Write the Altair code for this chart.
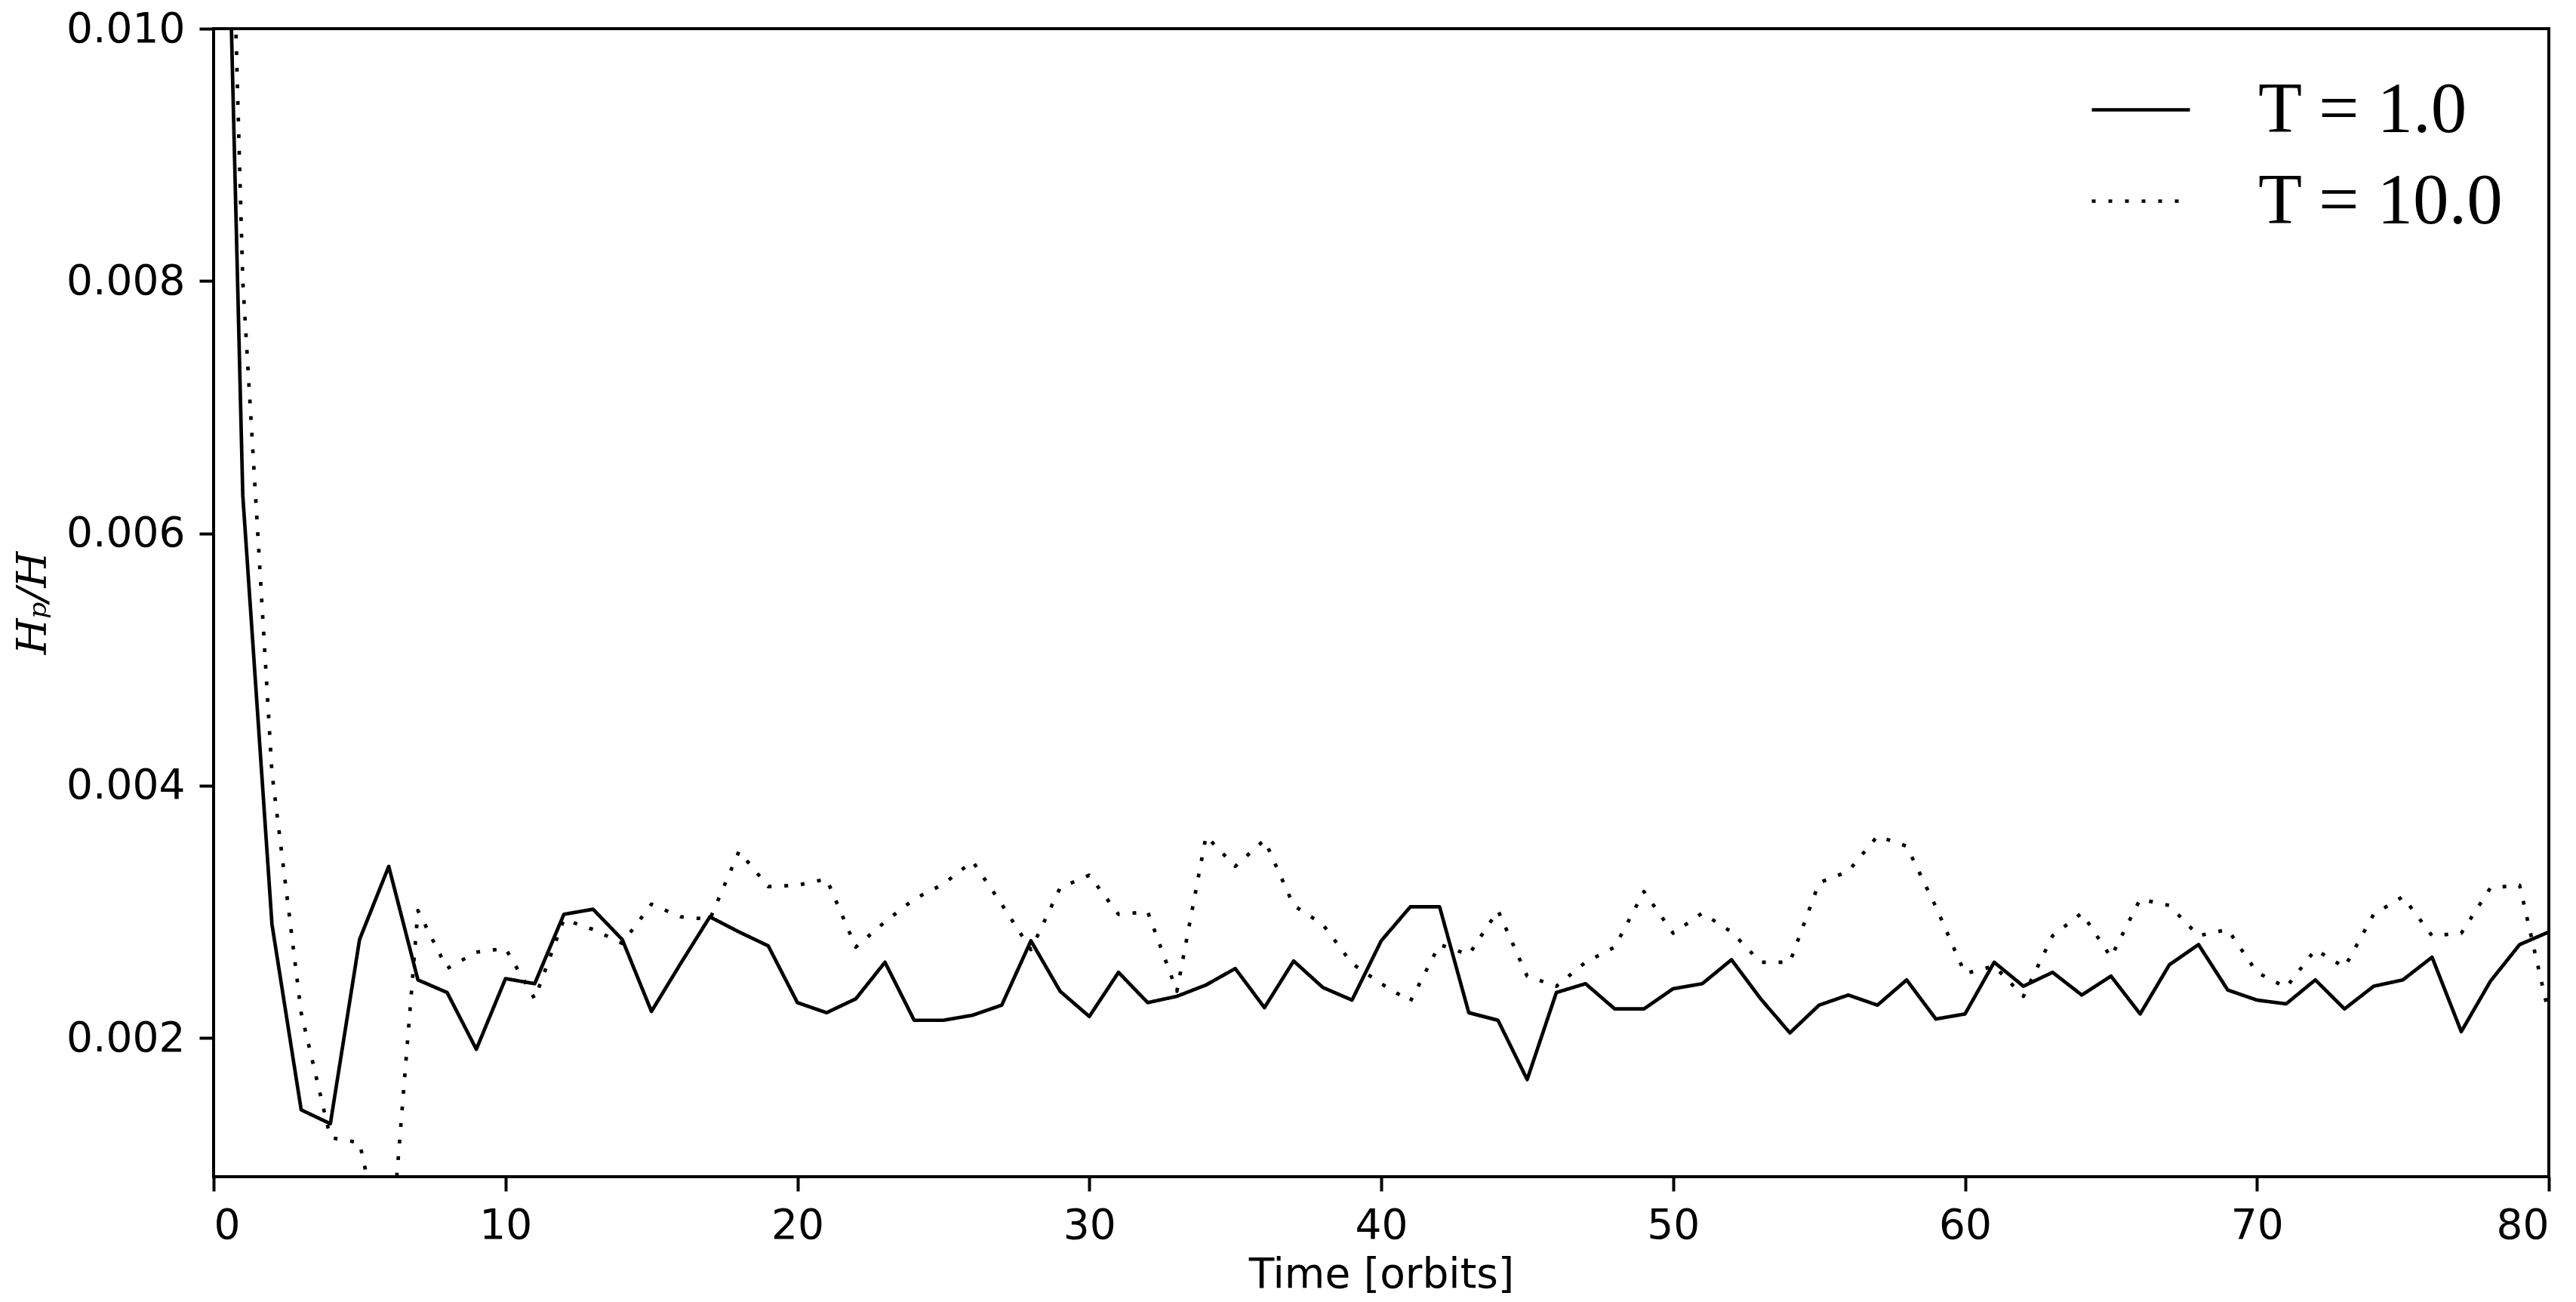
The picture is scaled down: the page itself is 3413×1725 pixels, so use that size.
import altair as alt
import pandas as pd

# ---- data ----
orbits = list(range(81))

hp_T1 = [
    0.0158, 0.0063, 0.0029, 0.00143, 0.00132, 0.00278, 0.00336, 0.00246, 0.00236, 0.00191,
    0.00247, 0.00243, 0.00298, 0.00302, 0.00278, 0.00221, 0.00259, 0.00296, 0.00284, 0.00273,
    0.00228, 0.00220, 0.00231, 0.00260, 0.00214, 0.00214, 0.00218, 0.00226, 0.00277, 0.00237,
    0.00217, 0.00252, 0.00228, 0.00233, 0.00242, 0.00255, 0.00224, 0.00261, 0.00240, 0.00230,
    0.00277, 0.00304, 0.00304, 0.00220, 0.00214, 0.00167, 0.00236, 0.00243, 0.00223, 0.00223,
    0.00239, 0.00243, 0.00262, 0.00231, 0.00204, 0.00226, 0.00234, 0.00226, 0.00246, 0.00215,
    0.00219, 0.00260, 0.00241, 0.00252, 0.00234, 0.00249, 0.00219, 0.00258, 0.00274, 0.00238,
    0.00230, 0.00227, 0.00246, 0.00223, 0.00241, 0.00246, 0.00264, 0.00205, 0.00245, 0.00274,
    0.00284,
]

hp_T10 = [
    0.0164, 0.0080, 0.0041, 0.0022, 0.00121, 0.00117, 0.0001, 0.00301, 0.00255, 0.00268,
    0.00271, 0.00231, 0.00294, 0.00286, 0.00275, 0.00306, 0.00296, 0.00294, 0.00348, 0.00320,
    0.00321, 0.00326, 0.00272, 0.00292, 0.00310, 0.00322, 0.00340, 0.00306, 0.00270, 0.00319,
    0.00329, 0.00298, 0.00300, 0.00237, 0.00360, 0.00336, 0.00357, 0.00305, 0.00290, 0.00259,
    0.00243, 0.00229, 0.00274, 0.00266, 0.00301, 0.00249, 0.00241, 0.00260, 0.00272, 0.00316,
    0.00283, 0.00299, 0.00284, 0.00260, 0.00260, 0.00323, 0.00332, 0.00360, 0.00352, 0.00304,
    0.00251, 0.00257, 0.00233, 0.00281, 0.00299, 0.00264, 0.00310, 0.00305, 0.00281, 0.00286,
    0.00252, 0.00240, 0.00270, 0.00256, 0.00298, 0.00312, 0.00281, 0.00283, 0.00319, 0.00321,
    0.00219,
]

series_labels = ["T = 1.0", "T = 10.0"]
x_ticks = [0, 10, 20, 30, 40, 50, 60, 70, 80]
y_ticks = [0.002, 0.004, 0.006, 0.008, 0.010]

df = pd.DataFrame({
    "orbit": orbits + orbits,
    "hp": hp_T1 + hp_T10,
    "series": [series_labels[0]] * len(orbits) + [series_labels[1]] * len(orbits),
})

chart = alt.Chart(df).mark_line(
    clip=True, color="black", strokeWidth=4.7, strokeCap="butt", strokeJoin="round"
).encode(
    x=alt.X(
        "orbit:Q",
        scale=alt.Scale(domain=[0, 80], nice=False, zero=False),
        axis=alt.Axis(values=x_ticks, format="d", title="Time [orbits]",
                      titleFont="DejaVu Sans", titleFontWeight="normal",
                      titleFontSize=55, titlePadding=11),
    ),
    y=alt.Y(
        "hp:Q",
        scale=alt.Scale(domain=[0.0009, 0.010], nice=False, zero=False),
        axis=alt.Axis(values=y_ticks, format=".3f", title="Hₚ/H",
                      titleFont="DejaVu Serif", titleFontStyle="italic",
                      titleFontWeight="normal", titleFontSize=55, titlePadding=15),
    ),
    strokeDash=alt.StrokeDash(
        "series:N",
        scale=alt.Scale(domain=series_labels, range=[[1, 0], [5, 17]]),
        legend=alt.Legend(
            title=None, orient="none", legendX=2486, legendY=40, padding=0,
            symbolType="stroke", symbolSize=16900, symbolStrokeWidth=4.7,
            symbolStrokeColor="black", labelFont="Liberation Serif",
            labelFontSize=95, labelOffset=88, labelLimit=800, rowPadding=5,
            labelColor="black",
        ),
    ),
).properties(
    width=3094,
    height=1521,
    autosize=alt.AutoSizeParams(type="none"),
    padding={"left": 275, "top": 30, "right": 28, "bottom": 165},
).configure_view(
    stroke="black", strokeWidth=4
).configure_axis(
    domain=False, grid=False, ticks=True, tickColor="black", tickWidth=4,
    tickSize=19, labelPadding=19, labelFont="DejaVu Sans", labelFontSize=55,
    labelColor="black", titleColor="black",
)

chart.save("out.html", embed_options={"renderer": "svg", "actions": False})
